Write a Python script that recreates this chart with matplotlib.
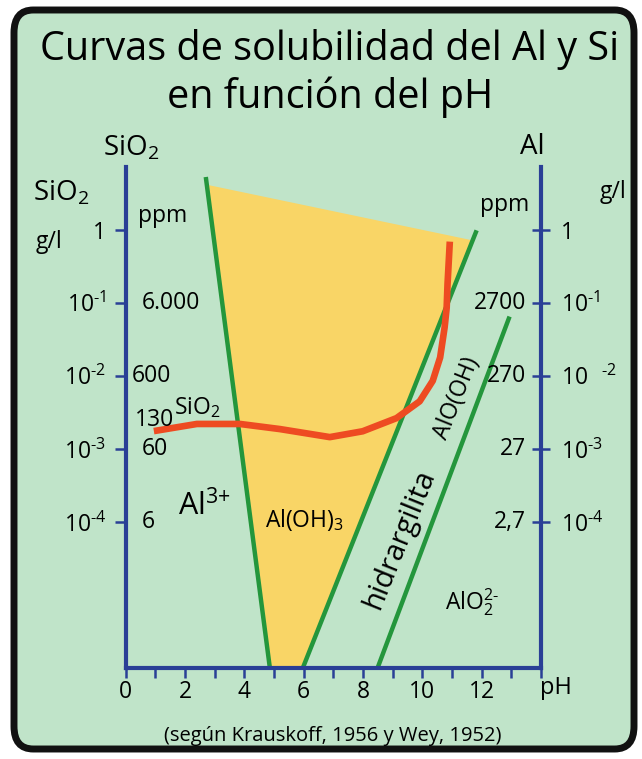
import numpy as np
import matplotlib
matplotlib.use('Agg')
from matplotlib import pyplot as plt
from matplotlib.patches import FancyBboxPatch, Polygon

plt.rcParams['font.family'] = ['Open Sans', 'DejaVu Sans']
plt.rcParams['mathtext.fontset'] = 'custom'
plt.rcParams['mathtext.rm'] = 'Open Sans'
plt.rcParams['mathtext.it'] = 'Open Sans'

# ---------------------------------------------------------------
# Datos
# ---------------------------------------------------------------
# eje x: pH
ph_ticks = list(range(0, 15))
ph_labels = ['0', '', '2', '', '4', '', '6', '', '8', '', '10', '', '12', '', '']

# eje y: log10 de la concentracion en g/l
guion = '\u2010'
log_ticks = [0, -1, -2, -3, -4]
gl_labels = ['1'] + ['$10^{%s%d}$' % (guion, n) for n in [1, 2, 3, 4]]
gl_labels_al = ['1', '$10^{%s1}$' % guion, '$10\\ \\ ^{%s2}$' % guion,
                '$10^{%s3}$' % guion, '$10^{%s4}$' % guion]
ppm_sio2 = ['6.000', '600', '60', '6']
ppm_sio2_log = [-1, -2, -3, -4]
ppm_al = ['2700', '270', '27', '2,7']
ppm_al_log = [-1, -2, -3, -4]

# limites de los campos (pH, log g/l)
lim_al3_ph = [2.7, 4.86]
lim_al3_log = [0.72, -6.0]
lim_hidr_ph = [5.97, 11.83]
lim_hidr_log = [-6.0, -0.01]
lim_aloh_ph = [8.49, 12.94]
lim_aloh_log = [-6.0, -1.19]
# borde superior del campo del Al(OH)3
techo_ph = [2.9, 11.49]
techo_log = [0.6, -0.13]

# curva de solubilidad de la silice
sio2_ph = [1.06, 2.4, 3.85, 5.2, 6.88, 7.99, 9.13, 9.91, 10.35, 10.6,
           10.75, 10.82, 10.85, 10.92]
sio2_log = [-2.75, -2.66, -2.66, -2.73, -2.84, -2.76, -2.58, -2.35, -2.07,
            -1.75, -1.34, -1.07, -0.74, -0.21]

# colores
fondo = '#c0e4c9'
azul = '#2a3f96'
verde = '#24963c'
rojo = '#ee4b22'
amarillo = '#f9d566'

fs = 16.5   # tamaño de los numeros de las escalas


# interseccion de dos rectas dadas por dos puntos cada una
def Interseccion(ax1, ay1, bx1, by1):
    p1 = np.array([ax1[0], ay1[0]])
    d1 = np.array([ax1[1] - ax1[0], ay1[1] - ay1[0]])
    p2 = np.array([bx1[0], by1[0]])
    d2 = np.array([bx1[1] - bx1[0], by1[1] - by1[0]])
    m = np.array([d1, -d2]).T
    t = np.linalg.solve(m, p2 - p1)
    return p1 + t[0] * d1


W, H = 642, 759
fig = plt.figure(figsize=(W / 100, H / 100), dpi=100)
fig.patch.set_facecolor('white')

# tarjeta de fondo con borde redondeado
tarjeta = FancyBboxPatch((14 / W, 10 / H), (W - 22) / W, (H - 20) / H,
                         boxstyle='round,pad=0,rounding_size=0.03',
                         transform=fig.transFigure, facecolor=fondo,
                         edgecolor='#111111', linewidth=5, zorder=-5)
fig.patches.append(tarjeta)

ax = fig.add_axes([125.7 / W, 1 - 668 / H, (541 - 125.7) / W, (668 - 167.5) / H])
ax.set_zorder(2)
ax.set_facecolor('none')
ax.set_xlim(0, 14)
ax.set_ylim(-6, 0.85)

# campo del Al(OH)3
v1 = Interseccion(techo_ph, techo_log, lim_al3_ph, lim_al3_log)
v2 = Interseccion(techo_ph, techo_log, lim_hidr_ph, lim_hidr_log)
campo = Polygon([v1, v2, (lim_hidr_ph[0], lim_hidr_log[0]), (lim_al3_ph[1], lim_al3_log[1])],
                closed=True, facecolor=amarillo, edgecolor='none', zorder=1)
ax.add_patch(campo)

# limites
ax.plot(lim_al3_ph, lim_al3_log, color=verde, lw=3.2, zorder=2, solid_capstyle='butt')
ax.plot(lim_hidr_ph, lim_hidr_log, color=verde, lw=3.2, zorder=2, solid_capstyle='butt')
ax.plot(lim_aloh_ph, lim_aloh_log, color=verde, lw=3.2, zorder=2, solid_capstyle='butt')

# curva SiO2
ax.plot(sio2_ph, sio2_log, color=rojo, lw=4.8, zorder=3, solid_joinstyle='round')

# ejes
for lado in ['top', 'right']:
    ax.spines[lado].set_visible(False)
for lado in ['left', 'bottom']:
    ax.spines[lado].set_color(azul)
    ax.spines[lado].set_linewidth(3)

ax.set_xticks(ph_ticks)
ax.set_xticklabels(ph_labels, fontsize=fs)
ax.tick_params(axis='x', direction='out', length=7, width=1.8, color=azul, pad=2)
ax.set_yticks(log_ticks)
ax.set_yticklabels(gl_labels, fontsize=fs)
ax.tick_params(axis='y', direction='out', length=8, width=1.8, color=azul, pad=6)

ax2 = ax.twinx()
ax2.set_zorder(3)
ax2.set_ylim(ax.get_ylim())
ax2.set_facecolor('none')
for lado in ['top', 'left', 'bottom']:
    ax2.spines[lado].set_visible(False)
ax2.spines['right'].set_color(azul)
ax2.spines['right'].set_linewidth(3)
ax2.set_yticks(log_ticks)
ax2.set_yticklabels(gl_labels_al, fontsize=fs)
ax2.tick_params(axis='y', direction='inout', length=13, width=1.8, color=azul, pad=8)

# valores en ppm
ax.text(1.26, 0.19, 'ppm', fontsize=fs, ha='center', va='center')
for etq, y in zip(ppm_sio2, ppm_sio2_log):
    ax.text(0.22 if etq == '600' else 0.55, y, etq, fontsize=fs, ha='left', va='center')
ax.text(0.31, -2.6, '130', fontsize=fs, ha='left', va='center')
ax.text(12.77, 0.33, 'ppm', fontsize=fs, ha='center', va='center')
for etq, y in zip(ppm_al, ppm_al_log):
    ax.text(13.5, y, etq, fontsize=fs, ha='right', va='center')

# nombres de los campos
ax.text(2.4, -2.44, 'SiO$_2$', fontsize=fs, ha='center', va='center')
ax.text(2.64, -3.79, 'Al$^{3{+}}$', fontsize=22, ha='center', va='center')
ax.text(6.04, -3.97, 'Al(OH)$_3$', fontsize=fs, ha='center', va='center')
ax.text(9.24, -4.23, 'hidrargilita', fontsize=21, ha='center', va='center',
        rotation=68, rotation_mode='anchor')
ax.text(11.16, -2.31, 'AlO(OH)', fontsize=fs, ha='center', va='center',
        rotation=68, rotation_mode='anchor')
ax.text(11.66, -5.1, 'AlO$_2^{2%s}$' % guion, fontsize=fs, ha='center', va='center')

# textos fuera de los ejes
fig.text(330 / W, 1 - 50 / H, 'Curvas de solubilidad del Al y Si', fontsize=28.5,
         ha='center', va='center')
fig.text(330 / W, 1 - 97 / H, 'en función del pH', fontsize=28.5, ha='center', va='center')
fig.text(131 / W, 1 - 148 / H, 'SiO$_2$', fontsize=20, ha='center', va='center')
fig.text(532 / W, 1 - 147 / H, 'Al', fontsize=20, ha='center', va='center')
fig.text(61 / W, 1 - 193 / H, 'SiO$_2$', fontsize=20, ha='center', va='center')
fig.text(49 / W, 1 - 242 / H, 'g/l', fontsize=fs, ha='center', va='center')
fig.text(613 / W, 1 - 192 / H, 'g/l', fontsize=fs, ha='center', va='center')
fig.text(556 / W, 1 - 688 / H, 'pH', fontsize=17, ha='center', va='center')
fig.text(333 / W, 1 - 736 / H, '(según Krauskoff, 1956 y Wey, 1952)', fontsize=14.5,
         ha='center', va='center')

plt.savefig('out.png', dpi=100, facecolor=fig.get_facecolor())
